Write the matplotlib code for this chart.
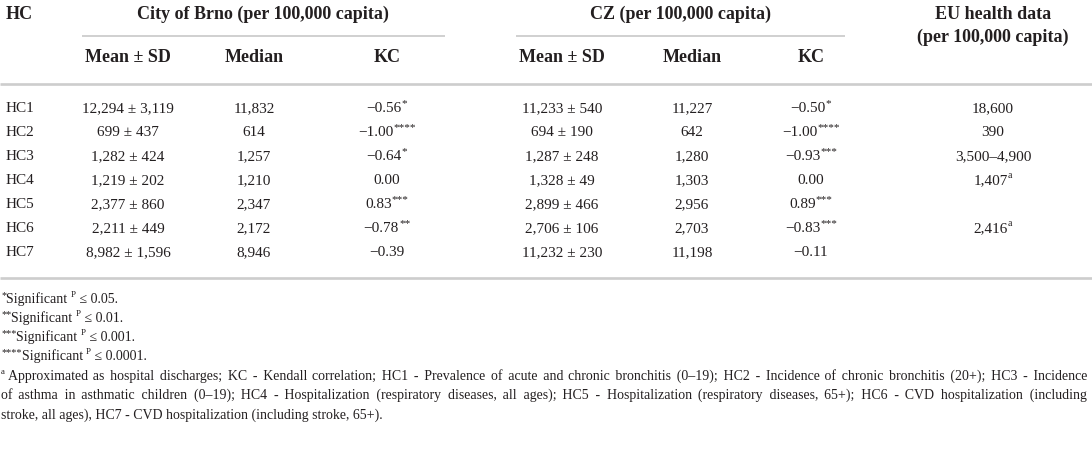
import matplotlib
matplotlib.use("Agg")
import matplotlib.pyplot as plt

plt.rcParams['font.family'] = ['Liberation Serif', 'DejaVu Serif']

# table data
hc_labels = ['HC1', 'HC2', 'HC3', 'HC4', 'HC5', 'HC6', 'HC7']
brno_mean = [12294, 699, 1282, 1219, 2377, 2211, 8982]
brno_sd = [3119, 437, 424, 202, 860, 449, 1596]
brno_median = [11832, 614, 1257, 1210, 2347, 2172, 8946]
brno_kc = [-0.56, -1.00, -0.64, 0.00, 0.83, -0.78, -0.39]
brno_sig = [1, 4, 1, 0, 3, 2, 0]
cz_mean = [11233, 694, 1287, 1328, 2899, 2706, 11232]
cz_sd = [540, 190, 248, 49, 466, 106, 230]
cz_median = [11227, 642, 1280, 1303, 2956, 2703, 11198]
cz_kc = [-0.50, -1.00, -0.93, 0.00, 0.89, -0.83, -0.11]
cz_sig = [1, 4, 3, 0, 3, 3, 0]
eu_values = ['18,600', '390', '3,500\u20134,900', '1,407', '', '2,416', '']
eu_notes = ['', '', '', 'a', '', 'a', '']

sig_notes = [('*', '0.05'), ('**', '0.01'), ('***', '0.001'), ('****', '0.0001')]
abbrev_lines = [
    'Approximated as hospital discharges; KC - Kendall correlation; HC1 - Prevalence of acute and chronic bronchitis (0\u201319); HC2 - Incidence of chronic bronchitis (20+); HC3 - Incidence',
    'of asthma in asthmatic children (0\u201319); HC4 - Hospitalization (respiratory diseases, all ages); HC5 - Hospitalization (respiratory diseases, 65+); HC6 - CVD hospitalization (including',
    'stroke, all ages), HC7 - CVD hospitalization (including stroke, 65+).',
]

TXT = '#231f20'
RULE = '#cdcdcd'
W, H = 1092, 458

fig = plt.figure(figsize=(W / 100, H / 100), dpi=100)
ax = fig.add_axes([0, 0, 1, 1])
ax.set_xlim(0, W)
ax.set_ylim(H, 0)
ax.axis('off')
renderer = fig.canvas.get_renderer()

body = 11
head = 13
foot = 10

col_x = {'bm': 128, 'bmed': 254, 'bkc': 387, 'cm': 562, 'cmed': 692, 'ckc': 811, 'eu': 993}


def px(pt):
    return pt * 100 / 72


def text_width(s, size):
    t = ax.text(0, 0, s, fontsize=size)
    w = t.get_window_extent(renderer).width
    t.remove()
    return w


def runs(x, y, parts, size, ha='left', weight='normal'):
    # lay out (text, is_superscript) pieces left to right on one baseline
    objs = []
    for txt, sup in parts:
        star = sup and txt.startswith('*')
        fs = size * (0.74 if star else 0.64) if sup else size
        dy = px(size) * (0.36 if star else 0.42) if sup else 0
        objs.append(ax.text(0, round(y - dy), txt, fontsize=fs, color=TXT, va='baseline',
                            ha='left', fontweight=weight))
    widths = [o.get_window_extent(renderer).width for o in objs]
    total = sum(widths)
    x0 = x - total / 2 if ha == 'center' else x
    for o, w in zip(objs, widths):
        o.set_x(x0)
        x0 += w


def cell(x, y, s, size=body, ha='center', weight='normal'):
    ax.text(x, round(y + px(size) * 0.33), s, fontsize=size, color=TXT, va='baseline', ha=ha,
            fontweight=weight)


def kc_parts(v, n):
    s = f'{v:.2f}'.replace('-', '\u2212')
    parts = [(s, False)]
    if n:
        parts.append(('*' * n, True))
    return parts


# header
cell(6, 13, 'HC', head, 'left', 'bold')
cell(263, 13, 'City of Brno (per 100,000 capita)', head, 'center', 'bold')
cell(680, 13, 'CZ (per 100,000 capita)', head, 'center', 'bold')
cell(col_x['eu'], 13, 'EU health data', head, 'center', 'bold')
cell(col_x['eu'], 36, '(per 100,000 capita)', head, 'center', 'bold')
ax.plot([82, 445], [36, 36], color=RULE, lw=1.3, solid_capstyle='butt')
ax.plot([516, 845], [36, 36], color=RULE, lw=1.3, solid_capstyle='butt')
for key, lab in [('bm', 'Mean \u00b1 SD'), ('bmed', 'Median'), ('bkc', 'KC'),
                 ('cm', 'Mean \u00b1 SD'), ('cmed', 'Median'), ('ckc', 'KC')]:
    cell(col_x[key], 56, lab, head, 'center', 'bold')
ax.plot([0, W], [84, 84], color=RULE, lw=1.9, solid_capstyle='butt')

# rows
row_y0 = 107
row_dy = 24
for i, lab in enumerate(hc_labels):
    y = row_y0 + i * row_dy
    yb = round(y + px(body) * 0.33)
    cell(6, y, lab, ha='left')
    cell(col_x['bm'], y, f'{brno_mean[i]:,} \u00b1 {brno_sd[i]:,}')
    cell(col_x['bmed'], y, f'{brno_median[i]:,}')
    runs(col_x['bkc'], yb, kc_parts(brno_kc[i], brno_sig[i]), body, 'center')
    cell(col_x['cm'], y, f'{cz_mean[i]:,} \u00b1 {cz_sd[i]:,}')
    cell(col_x['cmed'], y, f'{cz_median[i]:,}')
    runs(col_x['ckc'], yb, kc_parts(cz_kc[i], cz_sig[i]), body, 'center')
    if eu_values[i]:
        parts = [(eu_values[i], False)]
        if eu_notes[i]:
            parts.append((eu_notes[i], True))
        runs(col_x['eu'], yb, parts, body, 'center')

bottom_y = row_y0 + 6 * row_dy + 27
ax.plot([0, W], [bottom_y, bottom_y], color=RULE, lw=1.9, solid_capstyle='butt')

# footnotes
fn_y0 = bottom_y + 20
fn_dy = 19.3
for j, (stars, p) in enumerate(sig_notes):
    yb = round(fn_y0 + j * fn_dy + px(foot) * 0.33)
    runs(1, yb, [(stars, True), ('Significant ', False), ('P', True), (' \u2264 ' + p + '.', False)], foot)

# justify a line by padding the word gaps with hair spaces (one text, one baseline)
HAIR = '\u200a'
hair_w = (text_width('x' + HAIR * 40 + 'x', foot) - text_width('xx', foot)) / 40


def justified(line, yb, x0, x1):
    words = line.split(' ')
    gaps = len(words) - 1
    extra = (x1 - x0) - text_width(line, foot)
    n_total = max(0, int(round(extra / hair_w)))
    out = words[0]
    for k in range(gaps):
        n = n_total * (k + 1) // gaps - n_total * k // gaps
        out += ' ' + HAIR * n + words[k + 1]
    ax.text(x0, yb, out, fontsize=foot, color=TXT, va='baseline', ha='left')


ya = round(fn_y0 + 4 * fn_dy + px(foot) * 0.33)
runs(1, ya, [('a', True)], foot)
justified(abbrev_lines[0], ya, 8, 1087)
justified(abbrev_lines[1], round(ya + fn_dy), 1, 1087)
ax.text(1, round(ya + 2 * fn_dy), abbrev_lines[2], fontsize=foot, color=TXT, va='baseline', ha='left')

fig.savefig('out.png', dpi=100)
